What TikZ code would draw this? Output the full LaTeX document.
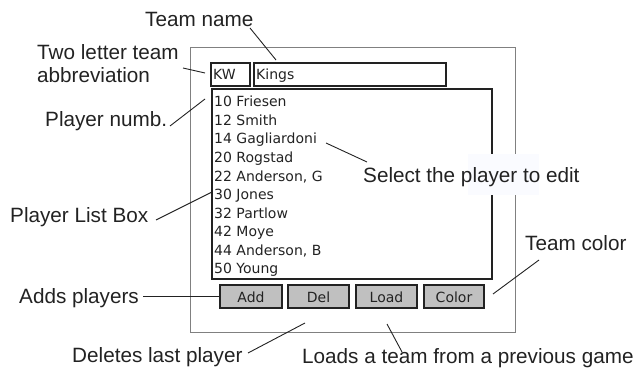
\documentclass[tikz,border=0pt]{standalone}
\usepackage{fontspec}
\setmainfont{Liberation Sans}
\newfontfamily\uifont{DejaVu Sans}
\definecolor{ink}{HTML}{222222}
\definecolor{frame}{HTML}{808080}
\definecolor{btnfill}{HTML}{C0C0C0}
\definecolor{patch}{HTML}{FAFBFF}
\begin{document}
\begin{tikzpicture}[x=1pt,y=-1pt,
  lbl/.style={anchor=base west,inner sep=0pt,text=ink,font=\fontsize{20.7}{24}\selectfont},
  ui/.style={anchor=base west,inner sep=0pt,text=ink,font=\uifont\fontsize{14}{16}\selectfont},
  uic/.style={anchor=base,inner sep=0pt,text=ink,font=\uifont\fontsize{14}{16}\selectfont},
  box/.style={draw=ink,line width=1.3pt,inner sep=0pt,rectangle},
  btn/.style={box,fill=btnfill,minimum height=23pt},
  conn/.style={draw=ink,line width=0.9pt}]
\useasboundingbox (0,0) rectangle (644,374);
% frames
\node[draw=frame,line width=1pt,minimum width=325pt,minimum height=284pt,inner sep=0pt] (outer) at (352.5,190) {};
\node[box,minimum width=39pt,minimum height=23pt] (kwbox) at (230.5,74.5) {};
\node[box,minimum width=192pt,minimum height=23pt] (namebox) at (350,74.5) {};
\node[box,minimum width=280pt,minimum height=190pt] (list) at (352,184) {};
\node[btn,minimum width=62pt] (add) at (251,296.5) {};
\node[btn,minimum width=61pt] (del) at (318.5,296.5) {};
\node[btn,minimum width=61pt] (load) at (386.5,296.5) {};
\node[btn,minimum width=60pt] (color) at (454,296.5) {};
% patch behind the select label
\node[fill=patch,inner sep=0pt,minimum width=71pt,minimum height=41pt] (mask) at (503.5,174.5) {};
% ui texts
\node[ui] (kw) at (213,80) {KW};
\node[ui] (kings) at (256,80) {Kings};
\node[ui] (p1) at (214,107) {10 Friesen};
\node[ui] (p2) at (214,125.5) {12 Smith};
\node[ui] (p3) at (214,144) {14 Gagliardoni};
\node[ui] (p4) at (214,162.5) {20 Rogstad};
\node[ui] (p5) at (214,181) {22 Anderson, G};
\node[ui] (p6) at (214,199.5) {30 Jones};
\node[ui] (p7) at (214,218) {32 Partlow};
\node[ui] (p8) at (214,236.5) {42 Moye};
\node[ui] (p9) at (214,255) {44 Anderson, B};
\node[ui] (p10) at (214,273.5) {50 Young};
\node[uic] (tadd) at (251,302) {Add};
\node[uic] (tdel) at (318.5,302) {Del};
\node[uic] (tload) at (386.5,302) {Load};
\node[uic] (tcolor) at (454,302) {Color};
% labels
\node[lbl] (lteam) at (145,27) {Team name};
\node[lbl] (ltwo) at (37,60) {Two letter team};
\node[lbl] (labbr) at (37,83) {abbreviation};
\node[lbl] (lnum) at (45,127) {Player numb.};
\node[lbl] (lsel) at (363,182) {Select the player to edit};
\node[lbl] (llist) at (10,222) {Player List Box};
\node[lbl] (ladd) at (19,303) {Adds players};
\node[lbl] (ldel) at (72,362) {Deletes last player};
\node[lbl] (lload) at (302,363) {Loads a team from a previous game};
\node[lbl] (lcol) at (525,250) {Team color};
% connector end points
\coordinate (cteamA) at (250,28);   \coordinate (cteamB) at (276,60);
\coordinate (ctwoA) at (183,68);    \coordinate (ctwoB) at (205,73);
\coordinate (cnumA) at (170,126);   \coordinate (cnumB) at (205,99);
\coordinate (cselA) at (326,143);   \coordinate (cselB) at (367,162);
\coordinate (clistA) at (156,220);  \coordinate (clistB) at (212,192);
\coordinate (caddA) at (143,296);   \coordinate (caddB) at (220,296);
\coordinate (cdelA) at (248,353);   \coordinate (cdelB) at (305,323);
\coordinate (cloadA) at (387,324);  \coordinate (cloadB) at (402,352);
\coordinate (ccolA) at (539,260);   \coordinate (ccolB) at (493,294);
\draw[conn] (cteamA) -- (cteamB);
\draw[conn] (ctwoA) -- (ctwoB);
\draw[conn] (cnumA) -- (cnumB);
\draw[conn] (cselA) -- (cselB);
\draw[conn] (clistA) -- (clistB);
\draw[conn] (caddA) -- (caddB);
\draw[conn] (cdelA) -- (cdelB);
\draw[conn] (cloadA) -- (cloadB);
\draw[conn] (ccolA) -- (ccolB);
\end{tikzpicture}
\end{document}
